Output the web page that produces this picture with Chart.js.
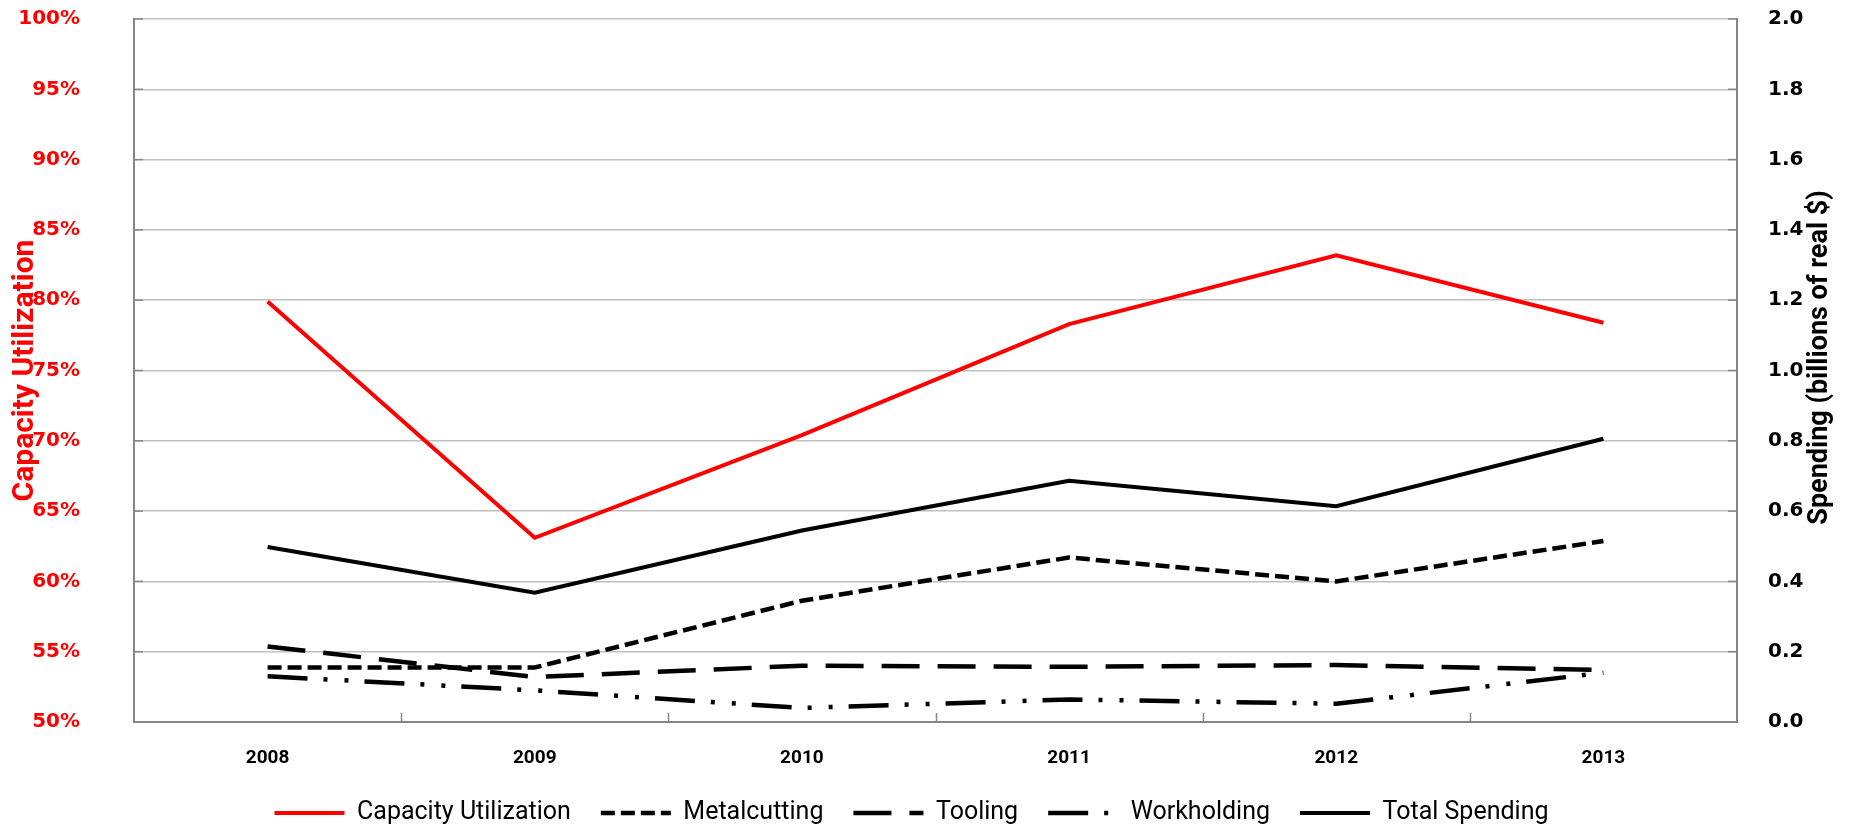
<!DOCTYPE html>
<html>
<head>
<meta charset="utf-8">
<title>Capacity Utilization and Spending</title>
<script src="https://cdn.jsdelivr.net/npm/chart.js@4/dist/chart.umd.min.js"></script>
<style>
  html, body { margin: 0; padding: 0; background: #fff; }
  #wrap { width: 1853px; height: 828px; }
</style>
</head>
<body>
<div id="wrap"><canvas id="capChart" width="1853" height="828"></canvas></div>
<script>
// years on the x axis
const years = ['2008', '2009', '2010', '2011', '2012', '2013'];

// capacity utilization, percent (left axis)
const capacityUtil = [79.9, 63.1, 70.4, 78.3, 83.2, 78.4];

// spending, billions of real $ (right axis)
const metalcutting = [0.155, 0.155, 0.345, 0.468, 0.400, 0.515];
const tooling = [0.215, 0.128, 0.160, 0.157, 0.162, 0.148];
const workholding = [0.130, 0.090, 0.040, 0.064, 0.052, 0.140];
const totalSpending = [0.498, 0.368, 0.545, 0.686, 0.614, 0.806];

const rightTitle = 'Spending (billions of real $)';

const textFont = "Roboto, 'Liberation Sans', sans-serif";
const tickFont = "'DejaVu Sans', Verdana, sans-serif";
const axisGray = '#868686';
const gridGray = '#c0c0c0';
const legendMid = 813;   // vertical centre of the legend row
const legendNudge = -15; // legend row sits a bit left of centre

// fixed-width y axes; drop the tick padding chart.js adds above/below
function fixYAxis(width) {
  return scale => {
    scale.width = width;
    scale.paddingTop = 0;
    scale.paddingBottom = 0;
  };
}

// inward tick marks on all three axes, the legend row moved to its spot,
// and the right axis title written bottom-to-top like the left one
const extras = {
  id: 'extras',
  afterLayout(chart) {
    const lg = chart.legend;
    const pad = lg.options.labels.padding;
    const half = lg.options.labels.font.size / 2;
    const shift = legendMid - (lg.top + pad + half);
    lg.top += shift;
    lg.bottom += shift;
    lg.left += legendNudge;
    lg.right += legendNudge;
  },
  afterDraw(chart) {
    const x = chart.scales.x;
    const yL = chart.scales.yL;
    const yR = chart.scales.yR;
    const area = chart.chartArea;
    const ctx = chart.ctx;
    ctx.save();
    ctx.strokeStyle = axisGray;
    ctx.lineWidth = 1.5;
    for (let i = 1; i < years.length; i++) {
      const px = Math.round((x.getPixelForValue(i - 1) + x.getPixelForValue(i)) / 2) + 0.5;
      ctx.beginPath();
      ctx.moveTo(px, area.bottom - 9);
      ctx.lineTo(px, area.bottom);
      ctx.stroke();
    }
    yL.ticks.forEach(t => {
      const py = yL.getPixelForValue(t.value);
      ctx.beginPath();
      ctx.moveTo(area.left, py);
      ctx.lineTo(area.left + 9, py);
      ctx.stroke();
    });
    yR.ticks.forEach(t => {
      const py = yR.getPixelForValue(t.value);
      ctx.beginPath();
      ctx.moveTo(area.right - 9, py);
      ctx.lineTo(area.right, py);
      ctx.stroke();
    });
    ctx.translate(yR.right - 33, (area.top + area.bottom) / 2 - 13);
    ctx.rotate(-Math.PI / 2);
    ctx.fillStyle = '#000';
    ctx.font = 'bold 27px ' + textFont;
    ctx.textAlign = 'center';
    ctx.textBaseline = 'middle';
    ctx.fillText(rightTitle, 0, 0);
    ctx.restore();
  }
};

const ctx = document.getElementById('capChart').getContext('2d');
new Chart(ctx, {
  type: 'line',
  data: {
    labels: years,
    datasets: [
      {
        label: 'Capacity Utilization',
        data: capacityUtil,
        yAxisID: 'yL',
        borderColor: '#ff0000',
        borderWidth: 4,
        pointRadius: 0,
        tension: 0
      },
      {
        label: 'Metalcutting',
        data: metalcutting,
        yAxisID: 'yR',
        borderColor: '#000',
        borderWidth: 4.5,
        borderDash: [14, 6],
        pointRadius: 0,
        tension: 0
      },
      {
        label: 'Tooling',
        data: tooling,
        yAxisID: 'yR',
        borderColor: '#000',
        borderWidth: 4.5,
        borderDash: [38, 18],
        pointRadius: 0,
        tension: 0
      },
      {
        label: 'Workholding',
        data: workholding,
        yAxisID: 'yR',
        borderColor: '#000',
        borderWidth: 4.5,
        borderDash: [40, 16, 4, 17, 4, 16],
        pointRadius: 0,
        tension: 0
      },
      {
        label: 'Total Spending',
        data: totalSpending,
        yAxisID: 'yR',
        borderColor: '#000',
        borderWidth: 4,
        pointRadius: 0,
        tension: 0
      }
    ]
  },
  options: {
    responsive: false,
    animation: false,
    layout: { padding: { top: 19, right: 0, bottom: -9, left: 0 } },
    plugins: {
      tooltip: { enabled: false },
      legend: {
        position: 'bottom',
        labels: {
          usePointStyle: true,
          pointStyle: 'line',
          pointStyleWidth: 70,
          boxHeight: 4,
          padding: 30,
          color: '#000',
          font: { family: textFont, size: 25 },
          // legend samples keep each series' dash pattern
          generateLabels(chart) {
            const items = Chart.defaults.plugins.legend.labels.generateLabels(chart);
            items.forEach((item, i) => {
              const ds = chart.data.datasets[i];
              item.lineDash = ds.borderDash || [];
              item.strokeStyle = ds.borderColor;
              item.lineWidth = ds.borderWidth;
              item.pointStyle = 'line';
            });
            return items;
          }
        }
      }
    },
    scales: {
      x: {
        offset: true,
        grid: { display: false, offset: true, drawTicks: false },
        border: { display: true, color: axisGray, width: 2 },
        ticks: {
          color: '#000',
          padding: 25,
          font: { family: textFont, size: 19, weight: 'bold' }
        },
        afterFit(scale) { scale.height = 50; }
      },
      yL: {
        position: 'left',
        min: 50,
        max: 100,
        ticks: {
          stepSize: 5,
          color: '#ff0000',
          padding: 54,
          font: { family: tickFont, size: 20, weight: 'bold' },
          callback: v => v + '%'
        },
        grid: { color: gridGray, lineWidth: 1.5, drawTicks: false },
        border: { display: true, color: axisGray, width: 2 },
        title: {
          display: true,
          text: 'Capacity Utilization',
          color: '#ff0000',
          padding: { top: 7, bottom: 0 },
          font: { family: textFont, size: 30, weight: 'bold' }
        },
        afterFit: fixYAxis(134)
      },
      yR: {
        position: 'right',
        min: 0,
        max: 2,
        ticks: {
          stepSize: 0.2,
          color: '#000',
          padding: 31,
          font: { family: tickFont, size: 20, weight: 'bold' },
          callback: v => v.toFixed(1)
        },
        grid: { drawOnChartArea: false, drawTicks: false },
        border: { display: true, color: axisGray, width: 2 },
        afterFit: fixYAxis(116)
      }
    }
  },
  plugins: [extras]
});
</script>
</body>
</html>
